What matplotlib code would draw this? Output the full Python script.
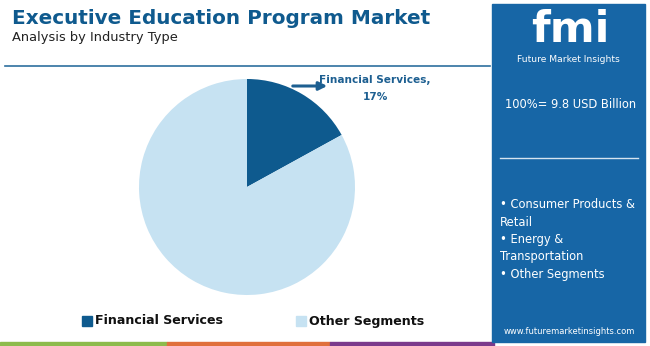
import matplotlib.pyplot as plt
from matplotlib.patches import Rectangle

segments = ['Financial Services', 'Other Segments']
shares = [17, 83]
colors = ['#0e5a8e', '#c6e2f2']
panel_items = ['• Consumer Products &', 'Retail', '• Energy &', 'Transportation', '• Other Segments']

W, H = 650, 346
fig = plt.figure(figsize=(6.5, 3.46), dpi=100)
fig.patch.set_facecolor('white')

def px(x, y):
    return x / W, 1 - y / H

# title block
fig.text(*px(12, 18), 'Executive Education Program Market', fontsize=14.4, fontweight='bold',
         color='#0f5a8e', va='center', ha='left')
fig.text(*px(12, 38), 'Analysis by Industry Type', fontsize=9.4, color='#222222', va='center', ha='left')
fig.add_artist(plt.Line2D([5 / W, 490 / W], [1 - 66 / H] * 2, color='#2e6f9e', lw=1.2))

# pie
ax = fig.add_axes([139 / W, (H - 295) / H, 216 / W, 216 / H])
ax.pie(shares, colors=colors, startangle=90, counterclock=False,
       wedgeprops=dict(linewidth=0))
ax.set_xlim(-1, 1)
ax.set_ylim(-1, 1)
ax.set_aspect('equal')

# overlay in pixel coords
ax_ann = fig.add_axes([0, 0, 1, 1], facecolor='none')
ax_ann.set_xlim(0, W)
ax_ann.set_ylim(H, 0)
ax_ann.axis('off')
ax_ann.annotate('', xy=(330, 86), xytext=(290, 86),
                arrowprops=dict(arrowstyle='-|>', color='#1d5f91', lw=2.2, mutation_scale=12))
ax_ann.text(375, 80, f'{segments[0]},', fontsize=7.6, fontweight='bold', color='#1d5f91', ha='center', va='center')
ax_ann.text(375, 97, f'{shares[0]}%', fontsize=7.6, fontweight='bold', color='#1d5f91', ha='center', va='center')

# legend
for x, c, lab in [(82, colors[0], segments[0]), (296, colors[1], segments[1])]:
    ax_ann.add_patch(Rectangle((x, 316), 10, 10, color=c))
    ax_ann.text(x + 13, 321, lab, fontsize=9.1, fontweight='bold', color='#111111', va='center', ha='left')

# bottom stripes
for x0, x1, c in [(0, 167, '#8dbb4c'), (167, 330, '#e0703c'), (330, 494, '#7b3a8c')]:
    ax_ann.add_patch(Rectangle((x0, 342), x1 - x0, 4, color=c))

# right panel
ax_ann.add_patch(Rectangle((492, 4), 153, 338, color='#1766a6'))
ax_ann.text(570, 30, 'fmi', fontsize=31, fontweight='bold', color='white', ha='center', va='center')
ax_ann.text(568, 59, 'Future Market Insights', fontsize=6.6, color='white', ha='center', va='center')
ax_ann.text(571, 104, '100%= 9.8 USD Billion', fontsize=8.3, color='white', ha='center', va='center')
ax_ann.plot([500, 638], [158, 158], color='#d5e4f0', lw=1)
for i, t in enumerate(panel_items):
    ax_ann.text(500, 205 + i * 17.3, t, fontsize=8.3, color='white', ha='left', va='center')
ax_ann.text(569, 331, 'www.futuremarketinsights.com', fontsize=6.0, color='white', ha='center', va='center')

fig.savefig('out.png', dpi=100)
